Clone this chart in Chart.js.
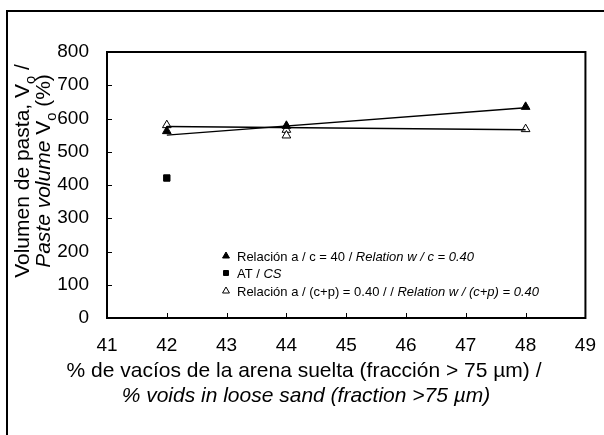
<!DOCTYPE html>
<html>
<head>
<meta charset="utf-8">
<title>Volumen de pasta</title>
<script src="https://cdn.jsdelivr.net/npm/chart.js@4.4.0/dist/chart.umd.min.js"></script>
<style>
    html, body { margin: 0; padding: 0; background: #fff; }
    #chart { display: block; }
</style>
</head>
<body>
<canvas id="chart" width="604" height="435"></canvas>
<script>
// Axis ranges and ticks
const xTicks = [41, 42, 43, 44, 45, 46, 47, 48, 49];
const yTicks = [0, 100, 200, 300, 400, 500, 600, 700, 800];

// Relación a / c = 0.40
const wcX = [42, 44, 48];
const wcY = [562, 578, 635];
const wcTrendX = [42, 48];
const wcTrendY = [550, 632];

// AT / CS
const csX = [42];
const csY = [421];

// Relación a / (c+p) = 0.40
const wcpX = [42, 44, 44, 48];
const wcpY = [580, 566, 549, 568];
const wcpTrendX = [42, 48];
const wcpTrendY = [576, 566];

const FONT = '"Liberation Sans", Arial, sans-serif';
const TITLE_SIZE = 21;
const LEGEND_SIZE = 13;

function points(xs, ys) {
    return xs.map((x, i) => ({ x: x, y: ys[i] }));
}

const filledTri = { pointStyle: 'triangle', radius: 5, backgroundColor: '#000', borderColor: '#000' };
const square = { pointStyle: 'rect', radius: 4.5, backgroundColor: '#000', borderColor: '#000' };
const openTri = { pointStyle: 'triangle', radius: 5, backgroundColor: '#fff', borderColor: '#000' };

// Legend rows: marker style, regular part, italic part
const legendRows = [
    { style: filledTri, plain: 'Relación a / c = 40 / ', italic: 'Relation w / c = 0.40', y: 256 },
    { style: square, plain: 'AT / ', italic: 'CS', y: 273 },
    { style: openTri, plain: 'Relación a / (c+p) = 0.40 / / ', italic: 'Relation w / (c+p) = 0.40', y: 291 }
];

// Draws text pieces one after another; sub pieces are lowered and smaller
function drawRuns(ctx, runs, x, y, size) {
    let cx = x;
    runs.forEach(r => {
        const s = r.sub ? size * 0.7 : size;
        ctx.font = (r.italic ? 'italic ' : '') + s + 'px ' + FONT;
        ctx.fillText(r.text, cx, r.sub ? y + size * 0.28 : y);
        cx += ctx.measureText(r.text).width;
    });
    return cx - x;
}

function runsWidth(ctx, runs, size) {
    let w = 0;
    runs.forEach(r => {
        const s = r.sub ? size * 0.7 : size;
        ctx.font = (r.italic ? 'italic ' : '') + s + 'px ' + FONT;
        w += ctx.measureText(r.text).width;
    });
    return w;
}

const decorPlugin = {
    id: 'decor',
    beforeDraw(chart) {
        const ctx = chart.ctx;
        ctx.save();
        ctx.fillStyle = '#fff';
        ctx.fillRect(0, 0, chart.width, chart.height);
        // outer frame (only left and top edges are in view)
        ctx.strokeStyle = '#000';
        ctx.lineWidth = 2;
        ctx.beginPath();
        ctx.moveTo(7, chart.height);
        ctx.lineTo(7, 11);
        ctx.lineTo(chart.width, 11);
        ctx.stroke();
        ctx.restore();
    },
    afterDraw(chart) {
        const ctx = chart.ctx;
        const a = chart.chartArea;
        const xs = chart.scales.x;
        const ys = chart.scales.y;
        ctx.save();
        ctx.strokeStyle = '#000';

        // plot box
        ctx.lineWidth = 2;
        ctx.strokeRect(a.left, a.top, a.right - a.left, a.bottom - a.top);

        // inward tick marks
        ctx.lineWidth = 1;
        ctx.beginPath();
        xTicks.forEach(v => {
            const px = Math.round(xs.getPixelForValue(v)) + 0.5;
            ctx.moveTo(px, a.bottom);
            ctx.lineTo(px, a.bottom - 5);
        });
        yTicks.forEach(v => {
            const py = Math.round(ys.getPixelForValue(v)) + 0.5;
            ctx.moveTo(a.left, py);
            ctx.lineTo(a.left + 5, py);
        });
        ctx.stroke();

        // legend
        ctx.textBaseline = 'middle';
        legendRows.forEach(row => {
            ctx.fillStyle = row.style.backgroundColor;
            ctx.strokeStyle = row.style.borderColor;
            ctx.lineWidth = 1;
            Chart.helpers.drawPoint(ctx, {
                pointStyle: row.style.pointStyle,
                radius: row.style.pointStyle === 'rect' ? 3.5 : 4,
                borderWidth: 1
            }, 226, row.y);
            ctx.fillStyle = '#000';
            drawRuns(ctx, [{ text: row.plain }, { text: row.italic, italic: true }], 237, row.y + 1, LEGEND_SIZE);
        });

        // axis titles
        ctx.textBaseline = 'alphabetic';
        ctx.fillStyle = '#000';
        const xLine1 = [{ text: '% de vacíos de la arena suelta (fracción > 75 µm) /' }];
        const xLine2 = [{ text: '% voids in loose sand (fraction >75 µm)', italic: true }];
        drawRuns(ctx, xLine1, 304 - runsWidth(ctx, xLine1, TITLE_SIZE) / 2, 377, TITLE_SIZE);
        drawRuns(ctx, xLine2, 306 - runsWidth(ctx, xLine2, TITLE_SIZE) / 2, 402, TITLE_SIZE);

        const yLine1 = [{ text: 'Volumen de pasta, V' }, { text: 'o', sub: true }, { text: ' /' }];
        const yLine2 = [{ text: 'Paste volume', italic: true }, { text: ' V' }, { text: 'o', sub: true }, { text: ' (%)' }];
        ctx.save();
        ctx.translate(29, 171);
        ctx.rotate(-Math.PI / 2);
        drawRuns(ctx, yLine1, -runsWidth(ctx, yLine1, TITLE_SIZE) / 2, 0, TITLE_SIZE);
        ctx.restore();
        ctx.save();
        ctx.translate(50, 171);
        ctx.rotate(-Math.PI / 2);
        drawRuns(ctx, yLine2, -runsWidth(ctx, yLine2, TITLE_SIZE) / 2, 0, TITLE_SIZE);
        ctx.restore();

        ctx.restore();
    }
};

function fixedTicks(values) {
    return function(scale) {
        scale.ticks = values.map(v => ({ value: v }));
    };
}

function markerDataset(label, xs, ys, style) {
    return {
        label: label,
        data: points(xs, ys),
        pointStyle: style.pointStyle,
        pointRadius: style.radius,
        backgroundColor: style.backgroundColor,
        borderColor: style.borderColor,
        borderWidth: 1
    };
}

function trendDataset(label, xs, ys) {
    return {
        label: label,
        data: points(xs, ys),
        type: 'line',
        showLine: true,
        borderColor: '#000',
        borderWidth: 1.5,
        pointRadius: 0,
        fill: false
    };
}

new Chart(document.getElementById('chart'), {
    type: 'scatter',
    data: {
        datasets: [
            trendDataset('Relation w / c trend', wcTrendX, wcTrendY),
            trendDataset('Relation w / (c+p) trend', wcpTrendX, wcpTrendY),
            markerDataset('Relation w / c = 0.40', wcX, wcY, filledTri),
            markerDataset('CS', csX, csY, square),
            markerDataset('Relation w / (c+p) = 0.40', wcpX, wcpY, openTri)
        ]
    },
    options: {
        responsive: false,
        animation: false,
        events: [],
        layout: {
            padding: { left: 7, top: 52, right: 14, bottom: 0 }
        },
        plugins: {
            legend: { display: false },
            tooltip: { enabled: false }
        },
        scales: {
            x: {
                type: 'linear',
                min: 41,
                max: 49,
                afterBuildTicks: fixedTicks(xTicks),
                afterFit: function(scale) { scale.height = 117; },
                grid: { display: false },
                border: { display: false },
                ticks: {
                    color: '#000',
                    padding: 8,
                    maxRotation: 0,
                    font: { family: FONT, size: 19 }
                }
            },
            y: {
                min: 0,
                max: 800,
                afterBuildTicks: fixedTicks(yTicks),
                afterFit: function(scale) { scale.width = 100; },
                grid: { display: false },
                border: { display: false },
                ticks: {
                    color: '#000',
                    padding: 10,
                    font: { family: FONT, size: 19 }
                }
            }
        }
    },
    plugins: [decorPlugin]
});
</script>
</body>
</html>
